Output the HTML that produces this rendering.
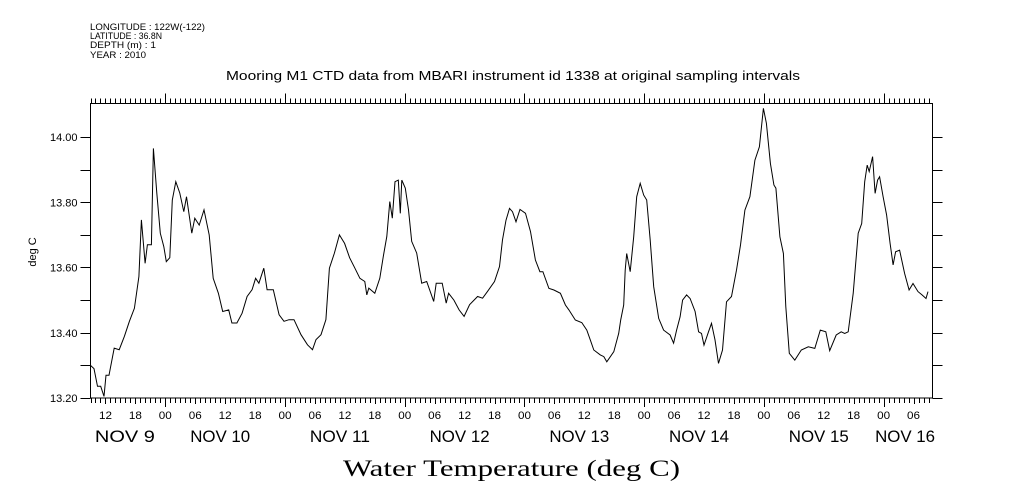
<!DOCTYPE html>
<html><head><meta charset="utf-8"><style>
body{margin:0;background:#fff;}
svg{display:block;font-family:"Liberation Sans",sans-serif;}
</style></head><body>
<svg id="chart" width="1009" height="504" viewBox="0 0 1009 504" xmlns="http://www.w3.org/2000/svg">
<g font-size="9" fill="#000">
<text x="90" y="30" textLength="115" lengthAdjust="spacingAndGlyphs">LONGITUDE : 122W(-122)</text>
<text x="90" y="39" textLength="72" lengthAdjust="spacingAndGlyphs">LATITUDE : 36.8N</text>
<text x="90" y="48" textLength="66" lengthAdjust="spacingAndGlyphs">DEPTH (m) : 1</text>
<text x="90" y="58" textLength="56" lengthAdjust="spacingAndGlyphs">YEAR : 2010</text>
</g>
<text x="226" y="80" font-size="12.5" textLength="574" lengthAdjust="spacingAndGlyphs">Mooring M1 CTD data from MBARI instrument id 1338 at original sampling intervals</text>
<text transform="translate(36,252) rotate(-90)" font-size="11" text-anchor="middle">deg C</text>
<text x="343" y="476" font-size="23" textLength="337" lengthAdjust="spacingAndGlyphs" font-family="Liberation Serif, serif">Water Temperature (deg C)</text>
<rect x="90.5" y="103.5" width="842" height="294.5" fill="none" stroke="#000" stroke-width="1"/>
<g id="axes"></g>
<path id="series" fill="none" stroke="#000" stroke-width="1" stroke-linejoin="miter"/>
</svg>
<script>
const hours=[9,9.7,10.4,11.05,11.7,12.1,12.7,13.75,14.76,15.8,16.8,17.8,18.7,19.2,19.95,20.4,21.2,21.6,22.3,23,23.7,24.2,24.9,25.4,26.1,26.9,27.7,28.25,29.3,29.9,30.8,31.75,32.8,33.6,34.65,35.5,36.7,37.35,38.35,39.4,40.4,41.4,42.1,42.75,43.75,44.4,45.65,46.8,47.8,48.8,49.8,51.2,52.5,53.5,54.2,55.2,56.2,56.9,57.9,58.9,59.95,60.95,62,63,64,64.4,64.8,66,67,67.7,68.4,69,69.5,70.05,70.7,71.1,71.4,72.1,72.75,73.4,74.4,75.4,76.4,77.8,78.3,79.5,80.3,80.8,81.85,82.9,83.9,85,86.6,87.6,88.6,90,91,91.6,92.3,93,93.6,94.3,95.1,96.2,97.2,98.2,99.1,99.7,100.9,101.9,103.2,104.2,104.9,106.2,107.5,108.5,109.2,109.9,111.2,111.9,112.5,113.9,114.9,115.3,115.9,116.2,116.5,117.2,117.9,118.5,119.2,119.9,120.5,121.2,121.9,122.9,123.9,125.2,125.9,126.5,127.2,127.7,128.5,129.2,130.2,130.9,131.5,132,132.9,133.5,134.2,134.9,135.7,136.5,137.5,138.5,139.3,140.2,141.2,142.2,143.1,143.9,144.5,145.3,146,146.4,147.2,147.9,148.4,149.1,150.2,151.5,152.9,154.2,155.3,156.4,157.2,158.5,159.5,160.2,160.9,161.9,162.9,163.6,164.2,164.7,165.1,165.8,166.3,166.8,167.2,167.9,168.6,169.3,169.9,170.4,171.2,172.2,173.1,173.9,174.9,175.7,176.5,176.9];
const temps=[13.30,13.29,13.236,13.236,13.205,13.27,13.27,13.353,13.348,13.389,13.435,13.475,13.572,13.746,13.613,13.67,13.67,13.965,13.828,13.705,13.664,13.618,13.63,13.807,13.863,13.828,13.771,13.817,13.705,13.751,13.73,13.777,13.70,13.567,13.521,13.465,13.47,13.43,13.43,13.46,13.511,13.532,13.567,13.552,13.598,13.532,13.532,13.455,13.435,13.44,13.44,13.394,13.363,13.348,13.379,13.394,13.44,13.598,13.644,13.70,13.674,13.63,13.598,13.567,13.557,13.516,13.537,13.521,13.567,13.634,13.695,13.802,13.751,13.863,13.868,13.766,13.868,13.843,13.777,13.68,13.644,13.552,13.557,13.496,13.552,13.552,13.491,13.521,13.50,13.47,13.45,13.486,13.511,13.506,13.527,13.557,13.603,13.685,13.745,13.781,13.771,13.74,13.778,13.766,13.71,13.623,13.587,13.587,13.536,13.531,13.521,13.485,13.47,13.439,13.431,13.408,13.378,13.347,13.332,13.327,13.311,13.342,13.398,13.439,13.485,13.592,13.643,13.587,13.694,13.817,13.858,13.822,13.807,13.684,13.541,13.444,13.408,13.393,13.368,13.408,13.449,13.50,13.516,13.505,13.465,13.403,13.398,13.362,13.403,13.429,13.378,13.306,13.347,13.495,13.511,13.592,13.669,13.776,13.817,13.929,13.97,14.088,14.042,13.919,13.853,13.843,13.694,13.643,13.48,13.337,13.316,13.347,13.357,13.352,13.408,13.403,13.345,13.393,13.403,13.398,13.403,13.521,13.705,13.735,13.863,13.914,13.894,13.94,13.827,13.868,13.878,13.817,13.761,13.674,13.608,13.648,13.653,13.582,13.531,13.551,13.526,13.516,13.505,13.526,13.521];
const yTicks=[13.2,13.3,13.4,13.5,13.6,13.7,13.8,13.9,14.0];
const yLabels=["13.20","13.40","13.60","13.80","14.00"];
const dayNames=["NOV  9","NOV 10","NOV 11","NOV 12","NOV 13","NOV 14","NOV 15","NOV 16"];
const dayLabelHours=[15.9,35,59,83,107,131,155,172.3];
const hourLabels=["00","06","12","18"];

const X0=90.5,X1=932.5,Y0=398,Y1=103.5;
const H0=9.0,H1=177.8;
const xs=h=>X0+(h-H0)*(X1-X0)/(H1-H0);
const ys=v=>398-(v-13.2)*326.25;
const NS="http://www.w3.org/2000/svg";
const ax=document.getElementById('axes');
function mk(tag,attrs,parent){const e=document.createElementNS(NS,tag);for(const k in attrs)e.setAttribute(k,attrs[k]);(parent||ax).appendChild(e);return e;}
yTicks.forEach(v=>{
  const y=Math.round(ys(v))+0.5;
  const l=mk('line',{x1:X0-10,x2:X0,y1:y,y2:y,stroke:'#000'});
  
  
  const r=mk('line',{x1:X1,x2:X1+10,y1:y,y2:y,stroke:'#000'});
  
  
});
yLabels.forEach(s=>{
  const t=mk('text',{x:X0-13,y:ys(parseFloat(s))+4,'font-size':11,'text-anchor':'end'});
  t.textContent=s;
  
  
});
for(let h=Math.ceil(H0);h<=H1;h++){
  const x=Math.round(xs(h))+0.5;
  const major=h%24===0, mid=h%6===0;
  const len=major?9:(mid?6:5);
  const b=mk('line',{x1:x,x2:x,y1:Y0,y2:Y0+len,stroke:'#000'});
  
  
  const t=mk('line',{x1:x,x2:x,y1:Y1-(major?10:5),y2:Y1,stroke:'#000'});
  
  
  if(mid){
    const lb=mk('text',{x:xs(h),y:419,'font-size':11,'text-anchor':'middle',textLength:13,lengthAdjust:'spacingAndGlyphs'});
    lb.textContent=hourLabels[(h%24)/6];
    
    
  }
}
dayNames.forEach((n,i)=>{
  const t=mk('text',{x:xs(dayLabelHours[i])-30,y:442,'font-size':17,textLength:60,lengthAdjust:'spacingAndGlyphs','xml:space':'preserve'});
  t.textContent=n;
  
  
});
document.getElementById('series').setAttribute('d',hours.map((h,i)=>(i?'L':'M')+xs(h).toFixed(1)+','+ys(temps[i]).toFixed(1)).join(''));
</script>
</body></html>
